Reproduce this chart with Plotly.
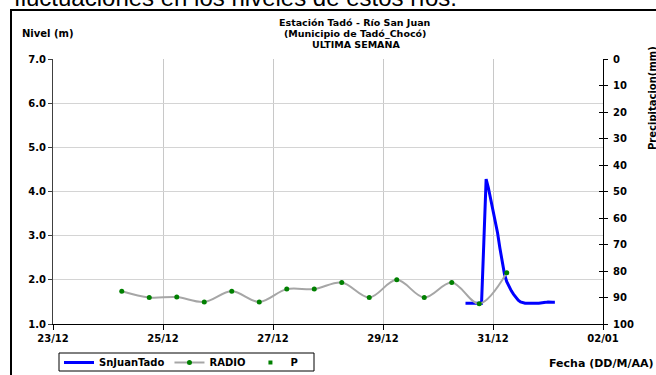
import plotly.graph_objects as go

# ---- data ----
radio_times = [
    "2012-12-24 06:00", "2012-12-24 18:00", "2012-12-25 06:00", "2012-12-25 18:00",
    "2012-12-26 06:00", "2012-12-26 18:00", "2012-12-27 06:00", "2012-12-27 18:00",
    "2012-12-28 06:00", "2012-12-28 18:00", "2012-12-29 06:00", "2012-12-29 18:00",
    "2012-12-30 06:00", "2012-12-30 18:00", "2012-12-31 06:00",
]
radio_values = [1.74, 1.60, 1.61, 1.50, 1.74, 1.50, 1.79, 1.79, 1.94, 1.60,
                2.00, 1.60, 1.94, 1.46, 2.16]

level_times = [
    "2012-12-30 12:00", "2012-12-30 15:00", "2012-12-30 18:00", "2012-12-30 19:00",
    "2012-12-30 20:00", "2012-12-30 21:00", "2012-12-30 22:00", "2012-12-30 23:00",
    "2012-12-31 00:00", "2012-12-31 01:00", "2012-12-31 02:00", "2012-12-31 03:00",
    "2012-12-31 04:00", "2012-12-31 05:00", "2012-12-31 06:00", "2012-12-31 07:00",
    "2012-12-31 08:00", "2012-12-31 09:00", "2012-12-31 10:00", "2012-12-31 11:00",
    "2012-12-31 12:00", "2012-12-31 14:00", "2012-12-31 17:00", "2012-12-31 20:00",
    "2012-12-31 23:00", "2013-01-01 00:00", "2013-01-01 02:00", "2013-01-01 03:00",
]
level_values = [1.47, 1.47, 1.46, 1.47, 2.85, 4.28, 4.08, 3.83, 3.58, 3.35,
                3.06, 2.72, 2.41, 2.13, 1.96, 1.85, 1.75, 1.67, 1.60, 1.54,
                1.50, 1.47, 1.47, 1.47, 1.49, 1.50, 1.49, 1.49]

# precipitation: no values visible in the chart
p_times = ["2012-12-31 06:00"]
p_values = [None]

x_range = ["2012-12-23", "2013-01-02"]
y_left_ticks = [1, 2, 3, 4, 5, 6, 7]
y_left_labels = ["1.0", "2.0", "3.0", "4.0", "5.0", "6.0", "7.0"]
y_right_ticks = [0, 10, 20, 30, 40, 50, 60, 70, 80, 90, 100]

FONT = "DejaVu Sans"
TOPFONT = "Liberation Sans"

# ---- figure ----
fig = go.Figure()

fig.add_trace(go.Scatter(
    x=level_times, y=level_values, name="SnJuanTado", mode="lines",
    line=dict(color="#0000FF", width=3), yaxis="y"))

fig.add_trace(go.Scatter(
    x=radio_times, y=radio_values, name="RADIO", mode="lines+markers",
    line=dict(color="#A6A6A6", width=2, shape="spline", smoothing=1),
    marker=dict(color="#008000", size=5), yaxis="y"))

fig.add_trace(go.Scatter(
    x=p_times, y=p_values, name="P", mode="markers",
    marker=dict(color="#008000", size=4, symbol="square"), yaxis="y2"))

# helper px -> paper
L, R, T, B = 53, 603, 59, 324
def px(xp):
    return (xp - L) / (R - L)
def py(yp):
    return (B - yp) / (B - T)

bold = dict(family=FONT, size=10, color="black", weight="bold")

fig.update_layout(
    width=656, height=375, autosize=False,
    margin=dict(l=L, r=656 - R, t=T, b=375 - B, pad=0, autoexpand=False),
    paper_bgcolor="white", plot_bgcolor="white",
    font=dict(family=FONT, size=10, color="black"),
    showlegend=True,
    legend=dict(
        orientation="h", x=px(59), y=py(348), xanchor="left", yanchor="top",
        borderwidth=0, bgcolor="rgba(0,0,0,0)",
        font=bold, tracegroupgap=0,
    ),
    xaxis=dict(
        type="date", range=x_range, tick0="2012-12-23", dtick=2 * 86400000,
        tickformat="%d/%m", showgrid=True, gridcolor="#C8C8C8", gridwidth=1,
        showline=True, linecolor="black", linewidth=1,
        ticks="outside", ticklen=5, tickcolor="black",
        tickfont=bold, zeroline=False, fixedrange=True,
    ),
    yaxis=dict(
        range=[1, 7], tickvals=y_left_ticks, ticktext=y_left_labels,
        showgrid=True, gridcolor="#D4D4D4", gridwidth=1,
        showline=True, linecolor="#404040", linewidth=1,
        ticks="outside", ticklen=4, tickcolor="#404040",
        tickfont=bold, zeroline=False,
    ),
    yaxis2=dict(
        range=[100, 0], tickvals=y_right_ticks, overlaying="y", side="right",
        showgrid=False, showline=True, linecolor="black", linewidth=1,
        ticks="outside", ticklen=4, tickcolor="black",
        tickfont=bold, zeroline=False, ticklabelstandoff=3,
    ),
    yaxis3=dict(
        range=[100, 0], tickvals=y_right_ticks, overlaying="y", side="right",
        showgrid=False, showline=False, ticks="inside", ticklen=4,
        tickcolor="black", showticklabels=False, zeroline=False,
    ),
)

# trace so yaxis3 (inner tick marks) renders
fig.add_trace(go.Scatter(x=[None], y=[None], yaxis="y3", showlegend=False,
                         hoverinfo="skip"))

# outer frame
fig.add_shape(type="rect", xref="paper", yref="paper",
              x0=px(11), x1=px(720), y0=py(420), y1=py(10),
              line=dict(color="black", width=2), fillcolor="rgba(0,0,0,0)",
              layer="below")
# legend frame
fig.add_shape(type="rect", xref="paper", yref="paper",
              x0=px(59), x1=px(314), y0=py(371), y1=py(353),
              line=dict(color="black", width=1), fillcolor="rgba(0,0,0,0)",
              layer="above")

title_font = dict(family=FONT, size=9.5, color="black", weight="bold")
anns = [
    dict(text="fluctuaciones en los niveles de estos ríos.", x=px(12), y=py(13),
         xanchor="left", yanchor="bottom",
         font=dict(family=TOPFONT, size=24, color="black")),
    dict(text="Nivel (m)", x=px(20), y=py(33), xanchor="left", yanchor="middle",
         font=dict(family=FONT, size=10, color="black", weight="bold")),
    dict(text="Estación Tadó - Río San Juan", x=px(355), y=py(22.5),
         xanchor="center", yanchor="middle", font=title_font),
    dict(text="(Municipio de Tadó_Chocó)", x=px(355), y=py(33.5),
         xanchor="center", yanchor="middle", font=title_font),
    dict(text="ULTIMA SEMANA", x=px(356), y=py(44.5),
         xanchor="center", yanchor="middle", font=title_font),
    dict(text="Fecha (DD/M/AA)", x=px(547), y=py(363), xanchor="left",
         yanchor="middle", font=dict(family=FONT, size=11, color="black", weight="bold")),
    dict(text="Precipitacion(mm)", x=px(652), y=py(98), xanchor="center",
         yanchor="middle", textangle=-90,
         font=dict(family=FONT, size=10, color="black", weight="bold")),
]
for a in anns:
    fig.add_annotation(xref="paper", yref="paper", showarrow=False, **a)

fig.write_html(
    "out.html",
    config={"displayModeBar": False},
    post_script="document.body.style.margin='0px';document.body.style.overflow='hidden';",
)
